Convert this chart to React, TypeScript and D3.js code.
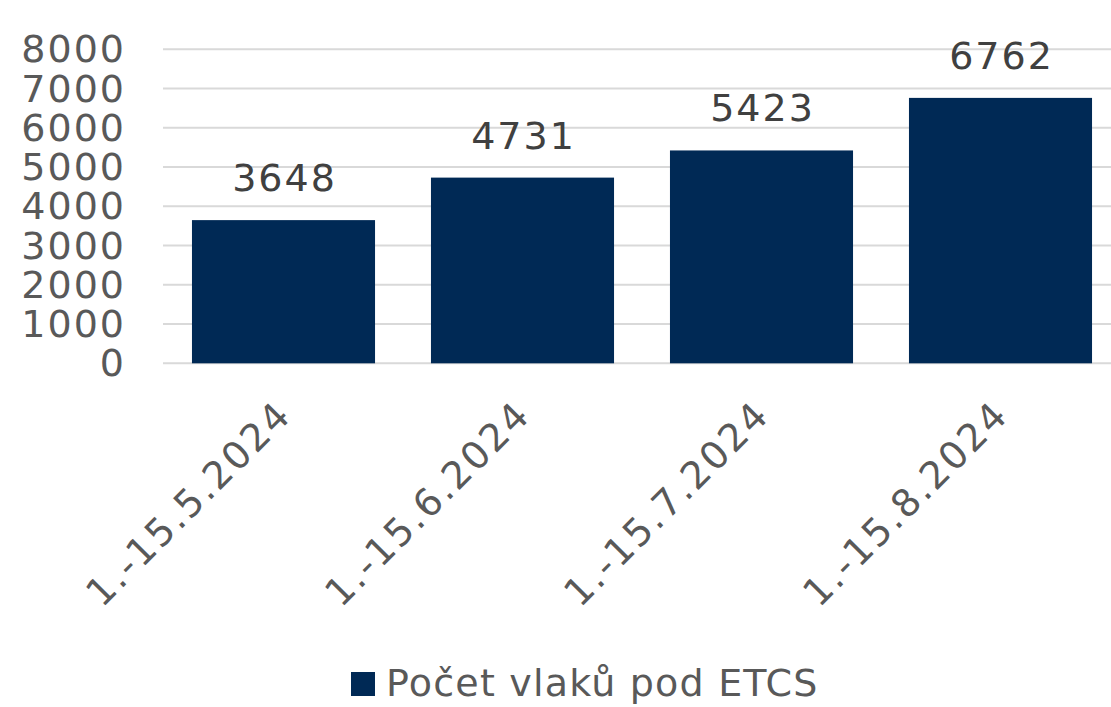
import React from "react";
import * as d3 from "d3";

const categories = ["1.-15.5.2024", "1.-15.6.2024", "1.-15.7.2024", "1.-15.8.2024"];
const values = [3648, 4731, 5423, 6762];
const yTicks = [0, 1000, 2000, 3000, 4000, 5000, 6000, 7000, 8000];
const seriesName = "Počet vlaků pod ETCS";

const W = 1111;
const H = 707;
const FONT = "'DejaVu Sans', Verdana, sans-serif";

export default function App() {
  const x = d3.scaleBand<string>().domain(categories).range([164, 1120]).paddingInner(0.234).paddingOuter(0.117);
  const y = d3.scaleLinear().domain([0, 8000]).range([363.3, 49.3]);
  const bw = x.bandwidth();

  return (
    <svg width={W} height={H} style={{ position: "absolute", left: 0, top: 0, background: "#fff" }} fontFamily={FONT}>
      {yTicks.map((t) => (
        <g key={t}>
          <line x1={163} x2={W} y1={y(t)} y2={y(t)} stroke="#d9d9d9" strokeWidth={2} />
          <text x={126} y={y(t) + 13} textAnchor="end" fontSize={38} letterSpacing={2} fill="#595959">
            {t}
          </text>
        </g>
      ))}
      {categories.map((c, i) => (
        <g key={c}>
          <rect x={x(c)!} y={y(values[i])} width={bw} height={y(0) - y(values[i])} fill="#002955" />
          <text
            x={x(c)! + bw / 2 + 1}
            y={y(values[i]) - 29}
            textAnchor="middle"
            fontSize={38}
            letterSpacing={2}
            fill="#404040"
          >
            {values[i]}
          </text>
          <text
            transform={`translate(${x(c)! + bw / 2 + 10},${417}) rotate(-45)`}
            textAnchor="end"
            fontSize={38}
            letterSpacing={2.3}
            fill="#595959"
          >
            {c}
          </text>
        </g>
      ))}
      <rect x={351} y={672} width={24} height={24} fill="#002955" />
      <text x={386} y={696} fontSize={38} letterSpacing={1.2} fill="#595959">
        {seriesName}
      </text>
    </svg>
  );
}
